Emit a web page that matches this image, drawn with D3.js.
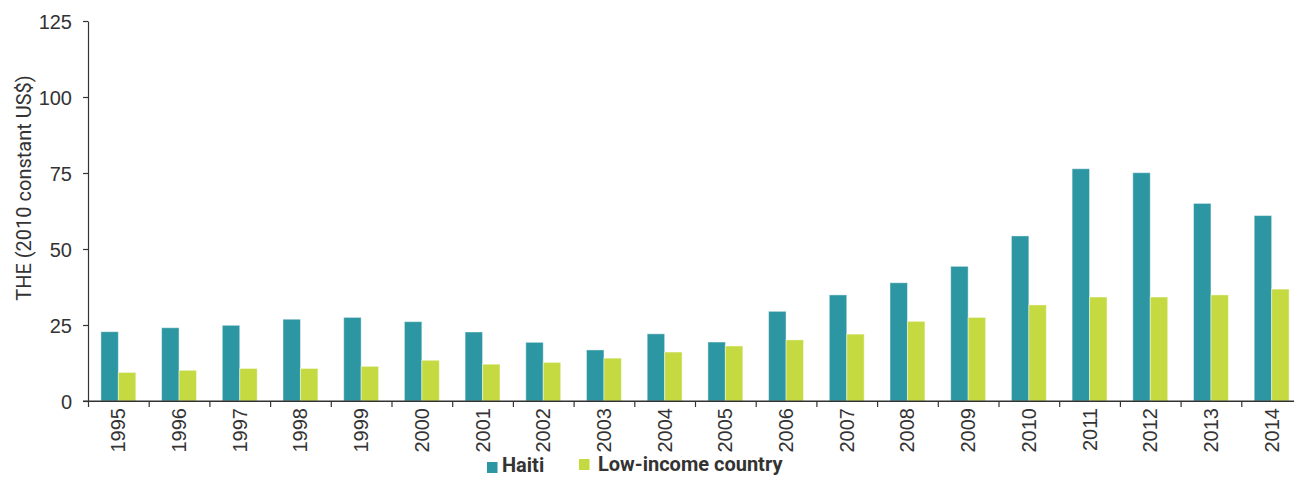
<!DOCTYPE html>
<html>
<head>
<meta charset="utf-8">
<script src="https://cdn.jsdelivr.net/npm/d3@7"></script>
<style>
  body { margin: 0; background: #fff; }
  svg { display: block; font-family: "Liberation Sans Narrow", "Roboto", sans-serif; }
  .axis path, .axis line { stroke: #333; stroke-width: 1.2; }
  .axis text { fill: #333; font-size: 20px; }
</style>
</head>
<body>
<script>
// Chart values
let years = ["1995", "1996", "1997", "1998", "1999", "2000", "2001", "2002", "2003", "2004",
             "2005", "2006", "2007", "2008", "2009", "2010", "2011", "2012", "2013", "2014"];
let haiti = [22.8, 24.1, 24.9, 26.9, 27.5, 26.1, 22.7, 19.3, 16.8, 22.1,
             19.4, 29.5, 34.9, 38.9, 44.3, 54.3, 76.4, 75.1, 65.0, 61.0];
let lowIncome = [9.4, 10.1, 10.7, 10.7, 11.4, 13.4, 12.1, 12.7, 14.1, 16.1,
                 18.1, 20.1, 22.0, 26.2, 27.5, 31.6, 34.2, 34.2, 34.9, 36.8];
let seriesNames = ["Haiti", "Low-income country"];
let seriesColors = ["#2c96a2", "#c5da40"];
let yTicks = [0, 25, 50, 75, 100, 125];

// Dimensions
let svgWidth = 1294;
let svgHeight = 477;
let plotLeft = 88;
let plotTop = 21;
let plotBottom = 401;
let bandWidth = 60.7;

let svg = d3.select("body")
            .append("svg")
            .attr("width", svgWidth)
            .attr("height", svgHeight);

// Scales
let x0 = d3.scaleBand()
           .domain(years)
           .range([plotLeft, plotLeft + years.length * bandWidth])
           .padding(0);
let x1 = d3.scaleBand()
           .domain(seriesNames)
           .range([12.9, 47.8])
           .padding(0);
let y = d3.scaleLinear().domain([0, 125]).range([plotBottom, plotTop]);
let xEdges = d3.scaleLinear().domain([0, years.length]).range(x0.range());

let rows = years.map((yr, i) => ({ year: yr, values: [haiti[i], lowIncome[i]] }));

// Bars
let groups = svg.append("g")
                .selectAll("g")
                .data(rows)
                .join("g")
                .attr("transform", d => `translate(${x0(d.year)},0)`);
groups.selectAll("rect")
      .data(d => d.values.map((v, k) => ({ name: seriesNames[k], value: v, color: seriesColors[k] })))
      .join("rect")
      .attr("x", d => x1(d.name))
      .attr("width", x1.bandwidth())
      .attr("y", d => y(d.value))
      .attr("height", d => y(0) - y(d.value))
      .attr("fill", d => d.color)
      .attr("stroke", "rgba(255,255,255,0.45)")
      .attr("stroke-width", 1);

// Y axis
let yAxis = svg.append("g")
               .attr("class", "axis")
               .attr("transform", `translate(${plotLeft},0)`)
               .call(d3.axisLeft(y).tickValues(yTicks).tickSize(5).tickSizeOuter(0).tickPadding(11));
yAxis.selectAll("text").attr("dy", "0.35em");

// X axis: boundary ticks
svg.append("g")
   .attr("class", "axis")
   .attr("transform", `translate(0,${plotBottom})`)
   .call(d3.axisBottom(xEdges).tickValues(d3.range(0, years.length + 1)).tickSize(6).tickSizeOuter(0).tickFormat(""));
svg.append("line")
   .attr("x1", plotLeft - 5).attr("x2", svgWidth)
   .attr("y1", plotBottom).attr("y2", plotBottom)
   .attr("stroke", "#333").attr("stroke-width", 1.2);

// X axis: year labels
let xAxis = svg.append("g")
               .attr("class", "axis")
               .attr("transform", `translate(0,${plotBottom})`)
               .call(d3.axisBottom(x0).tickSize(0).tickSizeOuter(0));
xAxis.select(".domain").remove();
xAxis.selectAll("text")
     .attr("transform", "rotate(-90)")
     .attr("text-anchor", "end")
     .attr("x", -7)
     .attr("y", 0)
     .attr("dy", "0.35em");

// Y axis title
svg.append("text")
   .attr("transform", "translate(31,188) rotate(-90)")
   .attr("text-anchor", "middle")
   .attr("fill", "#333")
   .style("font-size", "20px")
   .text("THE (2010 constant US$)");

// Legend
let legendX = [487, 579];
let legendY = [459, 458];
let legend = svg.append("g")
                .selectAll("g")
                .data(seriesNames)
                .join("g")
                .attr("transform", (d, i) => `translate(${legendX[i]},${legendY[i]})`);
legend.append("rect")
      .attr("width", 10.5)
      .attr("height", 11)
      .attr("y", (d, i) => i === 0 ? 3 : 1)
      .attr("fill", (d, i) => seriesColors[i]);
legend.append("text")
      .attr("x", (d, i) => i === 0 ? 15 : 19)
      .attr("y", 13)
      .attr("fill", "#333")
      .style("font-size", "20px")
      .style("font-weight", "bold")
      .text(d => d);
</script>
</body>
</html>
